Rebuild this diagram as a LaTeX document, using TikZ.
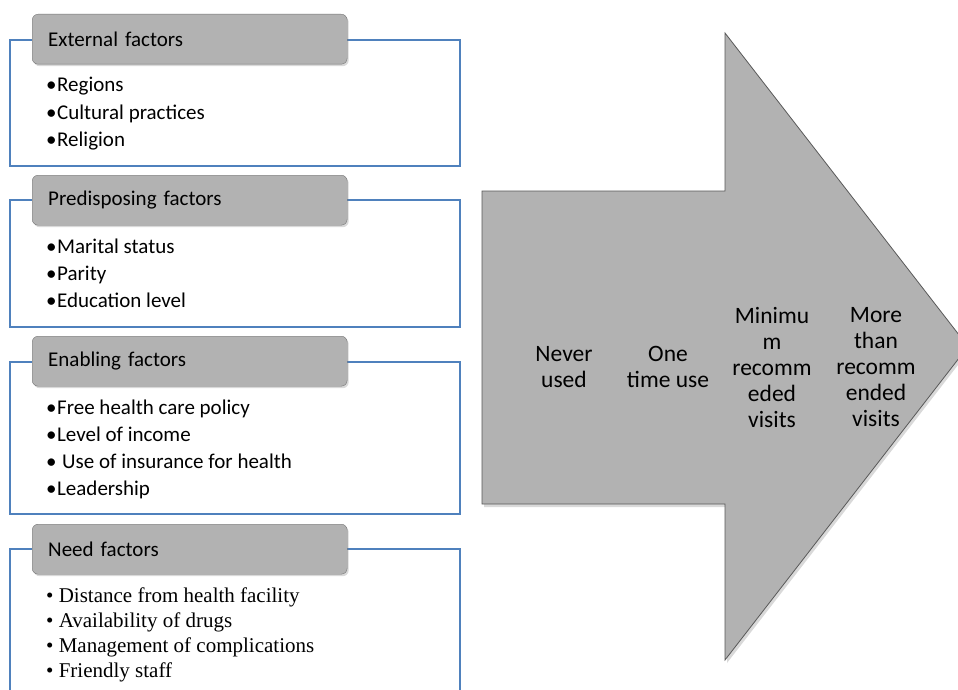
\documentclass[tikz,border=0pt]{standalone}
\usepackage{fontspec}
\setmainfont{Carlito}
\newfontfamily\timesfont{Liberation Serif}
\usetikzlibrary{positioning,shadows}
\definecolor{frameblue}{RGB}{79,129,189}
\definecolor{boxgray}{RGB}{178,178,178}
\tikzset{frame/.style={draw=frameblue, line width=1.2pt}}
\tikzset{head/.style={anchor=north west, draw=black!55, fill=boxgray, rounded corners=6,
    minimum width=315pt, minimum height=50pt, text width=283pt, inner xsep=16pt,
    align=left, font=\fontsize{21}{25}\selectfont,
    drop shadow={shadow xshift=1.5pt, shadow yshift=-2pt, opacity=0.3}}}
\tikzset{item/.style={anchor=base west, inner sep=0pt, font=\fontsize{21}{25}\selectfont}}
\tikzset{stage/.style={align=center, inner sep=0pt, font=\fontsize{23.5}{26}\selectfont}}
\tikzset{bigarrow/.style={draw=black!65, fill=boxgray, line width=0.8pt,
    drop shadow={shadow xshift=2pt, shadow yshift=-3pt, opacity=0.3}}}

\begin{document}
\begin{tikzpicture}[x=1pt, y=-1pt]
    \useasboundingbox (0,0) rectangle (958,690);
    \clip (0,0) rectangle (958,690);

    % factor panels
    \draw[frame] (10,40) rectangle (460,166);
    \node[head] (ext-head) at (32,14) {External factors};
    \foreach \txt [count=\i from 0] in {Regions, Cultural practices, Religion}
        \node[item] (ext-\i) at (46,{92+27.3*\i}) {\textbullet\hspace{0.5pt}\txt};

    \draw[frame] (10,200) rectangle (460,327);
    \node[head] (pred-head) at (32,175) {Predisposing factors};
    \foreach \txt [count=\i from 0] in {Marital status, Parity, Education level}
        \node[item] (pred-\i) at (46,{253+27.3*\i}) {\textbullet\hspace{0.5pt}\txt};

    \draw[frame] (10,362) rectangle (460,514);
    \node[head] (enab-head) at (32,336) {Enabling factors};
    \foreach \txt [count=\i from 0] in {Free health care policy, Level of income,
            {\hspace{5pt}Use of insurance for health}, Leadership}
        \node[item] (enab-\i) at (46,{414+27.3*\i}) {\textbullet\hspace{0.5pt}\txt};

    \draw[frame] (460,700) -- (460,549) -- (10,549) -- (10,700);
    \node[head] (need-head) at (32,524) {Need factors};
    \foreach \txt [count=\i from 0] in {Distance from health facility, Availability of drugs,
            Management of complications, Friendly staff}
        \node[item, font=\fontsize{21}{25}\timesfont] (need-\i) at (46,{602+25*\i}) {\textbullet\ \txt};

    % utilisation arrow
    \draw[bigarrow] (482,191) -- (725,191) -- (725,33) -- (968,346.5)
        -- (725,660) -- (725,504) -- (482,504) -- cycle;
    \node[stage] (never) at (564,367) {Never\\used};
    \node[stage] (once) at (668,367) {One\\time use};
    \node[stage] (minimum) at (772,367) {Minimu\\m\\recomm\\eded\\visits};
    \node[stage] (more) at (876,367) {More\\than\\recomm\\ended\\visits};
\end{tikzpicture}
\end{document}
